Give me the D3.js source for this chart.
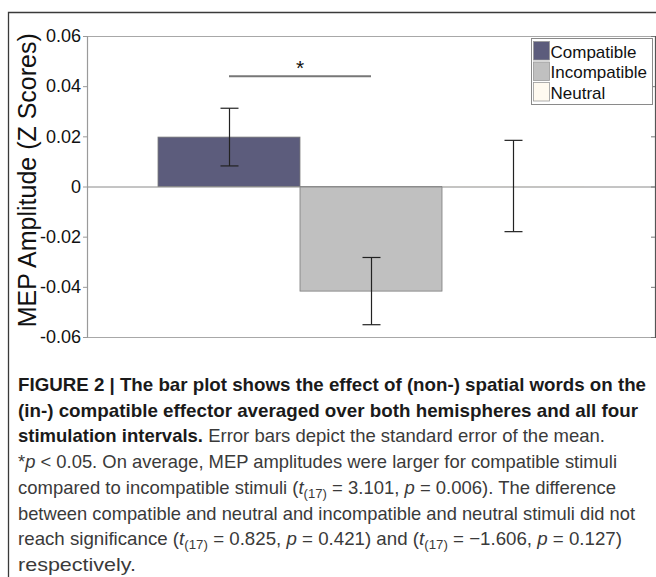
<!DOCTYPE html>
<html>
<head>
<meta charset="utf-8">
<script src="https://cdn.jsdelivr.net/npm/d3@7"></script>
<style>
  html, body { margin: 0; padding: 0; background: #fff; }
  svg { display: block; }
</style>
</head>
<body>
<svg id="chart" width="656" height="577"></svg>
<script>
// ---- data ----
const categories = ["Compatible", "Incompatible", "Neutral"];
const means = [0.0197, -0.0417, 0.0002];
const stdErrors = [0.0115, 0.0134, 0.0182];
const colors = ["#5c5c7c", "#c0c0c0", "#fffaf0"];
const yTicks = [-0.06, -0.04, -0.02, 0, 0.02, 0.04, 0.06];
const yLabel = "MEP Amplitude (Z Scores)";
const sigPair = ["Compatible", "Incompatible"];
const sigY = 0.044;

const svg = d3.select("#chart");
const plot = { left: 87, right: 655, top: 36, bottom: 337 };

// outer frame
svg.append("path")
  .attr("d", `M8.5,577 L8.5,12.5 L656,12.5`)
  .attr("fill", "none").attr("stroke", "#3a3a3a").attr("stroke-width", 1.3);

const x = d3.scaleBand().domain(categories)
  .range([plot.left + 71, plot.right - 71]).padding(0);
const y = d3.scaleLinear().domain([-0.06, 0.06]).range([plot.bottom, plot.top]);

// top & bottom box lines
svg.append("line").attr("x1", plot.left).attr("x2", plot.right)
  .attr("y1", plot.top + 0.5).attr("y2", plot.top + 0.5)
  .attr("stroke", "#a8a8a8").attr("stroke-width", 1.2);
svg.append("line").attr("x1", plot.left).attr("x2", plot.right)
  .attr("y1", plot.bottom + 0.5).attr("y2", plot.bottom + 0.5)
  .attr("stroke", "#a8a8a8").attr("stroke-width", 1.2);

// bars
svg.append("g").selectAll("rect").data(categories).join("rect")
  .attr("x", d => x(d))
  .attr("width", x.bandwidth())
  .attr("y", (d, i) => y(Math.max(0, means[i])))
  .attr("height", (d, i) => Math.abs(y(means[i]) - y(0)))
  .attr("fill", (d, i) => colors[i])
  .attr("stroke", (d, i) => i === 2 ? "none" : "#7a7a7a")
  .attr("stroke-width", 0.8);

// zero line
svg.append("line").attr("x1", plot.left).attr("x2", plot.right)
  .attr("y1", y(0) + 0.5).attr("y2", y(0) + 0.5)
  .attr("stroke", "#8a8a8a").attr("stroke-width", 1);

// error bars
const eb = svg.append("g").attr("stroke", "#222").attr("stroke-width", 1.2);
categories.forEach((c, i) => {
  const cx = Math.round(x(c) + x.bandwidth() / 2) + 0.5;
  const yt = y(means[i] + stdErrors[i]);
  const yb = y(means[i] - stdErrors[i]);
  eb.append("line").attr("x1", cx).attr("x2", cx).attr("y1", yt).attr("y2", yb);
  eb.append("line").attr("x1", cx - 9).attr("x2", cx + 9).attr("y1", yt).attr("y2", yt);
  eb.append("line").attr("x1", cx - 9).attr("x2", cx + 9).attr("y1", yb).attr("y2", yb);
});

// left axis
const fmt = v => v === 0 ? "0" : d3.format(".2f")(v).replace("−", "-");
const yAxis = svg.append("g").attr("transform", `translate(${plot.left},0)`)
  .call(d3.axisLeft(y).tickValues(yTicks).tickSize(4).tickPadding(2).tickFormat(fmt));
yAxis.select(".domain").attr("stroke", "#9a9a9a").attr("stroke-width", 1.2);
yAxis.selectAll(".tick line").attr("stroke", "#9a9a9a");
yAxis.selectAll(".tick text").attr("fill", "#111")
  .style("font-family", "'Liberation Sans', Arial, sans-serif").style("font-size", "18px");

// right axis (ticks inward, no labels)
const rAxis = svg.append("g").attr("transform", `translate(${plot.right},0)`)
  .call(d3.axisRight(y).tickValues(yTicks).tickSize(-4).tickFormat(""));
rAxis.select(".domain").attr("stroke", "#555").attr("stroke-width", 1.2);
rAxis.selectAll(".tick line").attr("stroke", "#777");

// y label
svg.append("text")
  .attr("transform", `translate(36,${y(0.0025)}) rotate(-90)`)
  .attr("text-anchor", "middle")
  .style("font-family", "'Liberation Sans', Arial, sans-serif").style("font-size", "25px")
  .attr("fill", "#111")
  .text(yLabel);

// significance bar
const sx1 = x(sigPair[0]) + x.bandwidth() / 2;
const sx2 = x(sigPair[1]) + x.bandwidth() / 2;
svg.append("line").attr("x1", sx1).attr("x2", sx2)
  .attr("y1", y(sigY)).attr("y2", y(sigY))
  .attr("stroke", "#777").attr("stroke-width", 2);
svg.append("text").attr("x", (sx1 + sx2) / 2).attr("y", y(sigY) - 1)
  .attr("text-anchor", "middle")
  .style("font-family", "'Liberation Sans', Arial, sans-serif").style("font-size", "21px")
  .attr("fill", "#111").text("*");

// legend
const lg = svg.append("g");
lg.append("rect").attr("x", 531.5).attr("y", 38.5).attr("width", 121).attr("height", 66)
  .attr("fill", "#fff").attr("stroke", "#8a8a8a").attr("stroke-width", 1);
categories.forEach((c, i) => {
  const ry = 41.5 + i * 20.5;
  lg.append("rect").attr("x", 533.5).attr("y", ry).attr("width", 16).attr("height", 18.5)
    .attr("fill", colors[i]).attr("stroke", "#999").attr("stroke-width", 0.8);
  lg.append("text").attr("x", 550.5).attr("y", ry + 16)
    .style("font-family", "'Liberation Sans', Arial, sans-serif").style("font-size", "17px")
    .attr("fill", "#111").text(c);
});

// caption
const capX = 18;
const capLines = [
  { w: 628, parts: [{ t: "FIGURE 2 | The bar plot shows the effect of (non-) spatial words on the", b: 1 }] },
  { w: 620, parts: [{ t: "(in-) compatible effector averaged over both hemispheres and all four", b: 1 }] },
  { w: 587, parts: [{ t: "stimulation intervals.", b: 1 }, { t: " Error bars depict the standard error of the mean." }] },
  { w: 599, parts: [{ t: "*" }, { t: "p", i: 1 }, { t: " < 0.05. On average, MEP amplitudes were larger for compatible stimuli" }] },
  { w: 598, parts: [{ t: "compared to incompatible stimuli (" }, { t: "t", i: 1 }, { t: "(17)", s: 1 }, { t: " = 3.101, " }, { t: "p", i: 1 }, { t: " = 0.006). The difference" }] },
  { w: 617, parts: [{ t: "between compatible and neutral and incompatible and neutral stimuli did not" }] },
  { w: 604, parts: [{ t: "reach significance (" }, { t: "t", i: 1 }, { t: "(17)", s: 1 }, { t: " = 0.825, " }, { t: "p", i: 1 }, { t: " = 0.421) and (" }, { t: "t", i: 1 }, { t: "(17)", s: 1 }, { t: " = \u22121.606, " }, { t: "p", i: 1 }, { t: " = 0.127)" }] },
  { w: 118, parts: [{ t: "respectively." }] }
];
const cap = svg.append("g")
  .style("font-family", "'Liberation Sans Narrow', 'Liberation Sans', Arial, sans-serif")
  .style("font-size", "19px");
capLines.forEach((ln, li) => {
  const t = cap.append("text").attr("x", capX).attr("y", 391 + li * 25.7)
    .attr("textLength", ln.w).attr("lengthAdjust", "spacingAndGlyphs");
  let shifted = false;
  ln.parts.forEach(p => {
    const ts = t.append("tspan").text(p.t)
      .attr("fill", p.b ? "#1a1a1a" : "#3a3a3a")
      .style("font-weight", p.b ? "bold" : "normal")
      .style("font-style", p.i ? "italic" : "normal");
    if (p.s) { ts.attr("dy", 4).style("font-size", "13.5px"); shifted = true; }
    else if (shifted) { ts.attr("dy", -4); shifted = false; }
  });
});
</script>
</body>
</html>
